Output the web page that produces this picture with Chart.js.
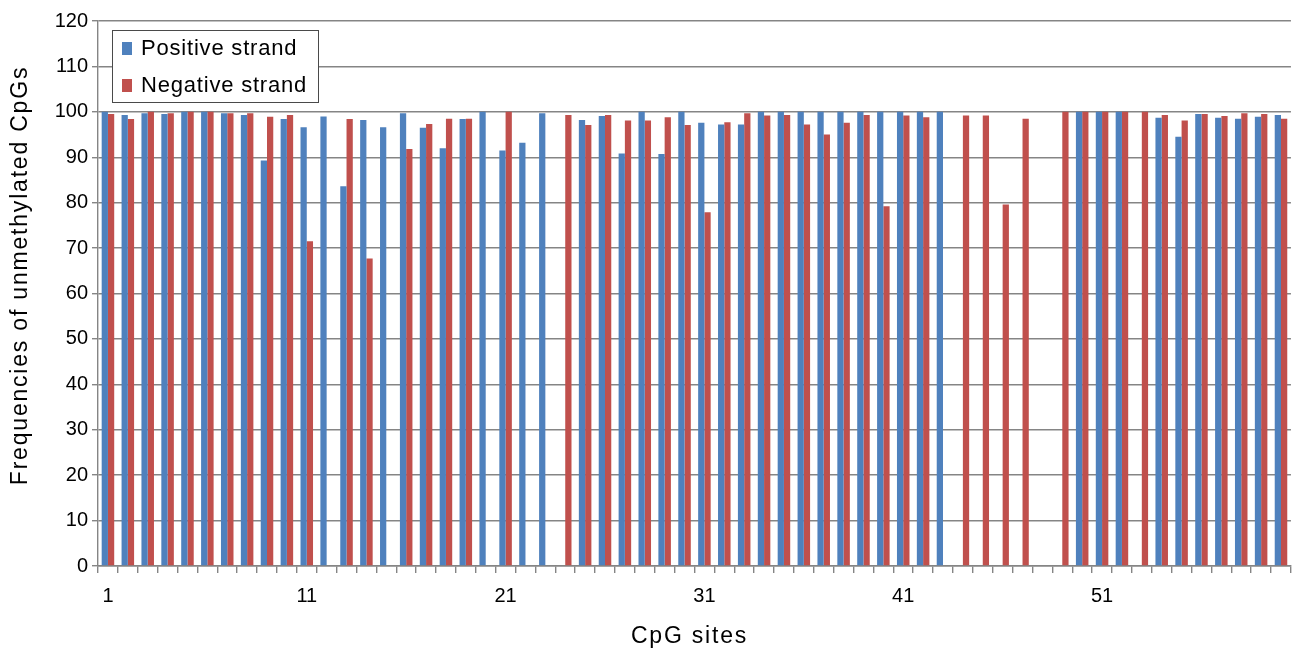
<!DOCTYPE html>
<html>
<head>
<meta charset="utf-8">
<script src="https://cdn.jsdelivr.net/npm/chart.js@4/dist/chart.umd.min.js"></script>
<style>
  html, body { margin: 0; padding: 0; background: #ffffff; }
  #wrap { width: 1292px; height: 653px; position: relative; }
</style>
</head>
<body>
<div id="wrap"><canvas id="c" width="1292" height="653"></canvas></div>
<script>
// CpG site numbers along the x axis
const sites = [
  '1','2','3','4','5','6','7','8','9','10',
  '11','12','13','14','15','16','17','18','19','20',
  '21','22','23','24','25','26','27','28','29','30',
  '31','32','33','34','35','36','37','38','39','40',
  '41','42','43','44','45','46','47','48','49','50',
  '51','52','53','54','55','56','57','58','59','60'
];

// Frequencies of unmethylated CpGs, positive strand (null = no data)
const positiveStrand = [
  100, 99.3, 99.7, 99.5, 100, 100, 99.7, 99.3, 89.3, 98.4,
  96.6, 99.0, 83.6, 98.2, 96.6, 99.7, 96.5, 92.0, 98.4, 100,
  91.5, 93.2, 99.7, null, 98.2, 99.1, 90.8, 100, 90.7, 100,
  97.6, 97.2, 97.2, 100, 100, 100, 100, 100, 100, 100,
  100, 100, 100, null, null, null, null, null, null, 100,
  100, 100, null, 98.7, 94.5, 99.5, 98.7, 98.5, 98.9, 99.3
];

// Frequencies of unmethylated CpGs, negative strand (null = no data)
const negativeStrand = [
  99.5, 98.4, 100, 99.7, 100, 100, 99.7, 99.7, 98.9, 99.3,
  71.5, null, 98.4, 67.7, null, 91.8, 97.3, 98.5, 98.5, null,
  100, null, null, 99.3, 97.1, 99.3, 98.1, 98.1, 98.8, 97.1,
  77.9, 97.7, 99.7, 99.2, 99.3, 97.2, 95.0, 97.6, 99.3, 79.2,
  99.2, 98.8, null, 99.2, 99.2, 79.6, 98.5, null, 100, 100,
  100, 100, 100, 99.3, 98.1, 99.5, 99.1, 99.7, 99.5, 98.5
];

// Series names and axis titles
const seriesNames = ['Positive strand', 'Negative strand'];
const xTitle = 'CpG sites';
const yTitle = 'Frequencies of unmethylated CpGs';

// Every 10th site gets a printed label
const labelEvery = 10;

const FONT = '"Liberation Sans", Arial, sans-serif';
const GRID = '#858585';
const BLUE = '#4F81BD';
const RED = '#C0504D';

// Axis titles, drawn in the space the scales reserve around the plot
const axisTitles = {
  id: 'axisTitles',
  afterDraw(chart) {
    const { ctx, chartArea } = chart;
    ctx.save();
    ctx.font = '23px ' + FONT;
    if ('letterSpacing' in ctx) ctx.letterSpacing = '1.8px';
    ctx.fillStyle = '#000000';
    ctx.textAlign = 'center';
    ctx.textBaseline = 'middle';
    // x title under the tick labels
    ctx.fillText(xTitle, (chartArea.left + chartArea.right) / 2 - 5, 637);
    // rotated y title left of the tick labels
    ctx.translate(21, (chartArea.top + chartArea.bottom) / 2 - 18);
    ctx.rotate(-Math.PI / 2);
    ctx.fillText(yTitle, 0, 0);
    ctx.restore();
  }
};

// Boxed legend drawn inside the top-left corner of the plot area
const boxedLegend = {
  id: 'boxedLegend',
  afterDatasetsDraw(chart) {
    const { ctx, chartArea } = chart;
    const x = chartArea.left + 14;
    const y = chartArea.top + 9;
    const w = 206;
    const h = 72;
    ctx.save();
    ctx.fillStyle = '#ffffff';
    ctx.fillRect(x, y, w, h);
    ctx.strokeStyle = '#4a4a4a';
    ctx.lineWidth = 1;
    ctx.strokeRect(x + 0.5, y + 0.5, w, h);
    ctx.font = '22px ' + FONT;
    if ('letterSpacing' in ctx) ctx.letterSpacing = '0.8px';
    ctx.textBaseline = 'middle';
    ctx.textAlign = 'left';
    chart.data.datasets.forEach((ds, i) => {
      const cy = y + 18 + i * 37;
      ctx.fillStyle = ds.backgroundColor;
      ctx.fillRect(x + 10, cy - 6, 10, 13);
      ctx.fillStyle = '#000000';
      ctx.fillText(ds.label, x + 29, cy + 1);
    });
    ctx.restore();
  }
};

new Chart(document.getElementById('c'), {
  type: 'bar',
  data: {
    labels: sites,
    datasets: [
      { label: seriesNames[0], data: positiveStrand, backgroundColor: BLUE },
      { label: seriesNames[1], data: negativeStrand, backgroundColor: RED }
    ]
  },
  options: {
    responsive: false,
    animation: false,
    devicePixelRatio: 1,
    layout: { padding: { top: 21, right: 0, bottom: 0, left: 0 } },
    datasets: { bar: { categoryPercentage: 0.63, barPercentage: 1.0 } },
    plugins: {
      legend: { display: false },
      tooltip: { enabled: false }
    },
    scales: {
      x: {
        offset: true,
        grid: { offset: true, drawOnChartArea: false, drawTicks: true, tickLength: 7, color: GRID, lineWidth: 1.4 },
        border: { color: GRID, width: 1.4 },
        ticks: {
          autoSkip: false, maxRotation: 0, minRotation: 0, padding: 11,
          color: '#000000', font: { family: FONT, size: 20 },
          callback(value, index) { return index % labelEvery === 0 ? this.getLabelForValue(value) : ''; }
        },
        afterFit(scale) { scale.height = 87; }
      },
      y: {
        min: 0, max: 120,
        grid: { color: GRID, tickLength: 6, lineWidth: 1.4 },
        border: { color: GRID, width: 1.4 },
        ticks: { stepSize: 10, padding: 4, color: '#000000', font: { family: FONT, size: 20 } },
        afterFit(scale) { scale.width = 98; }
      }
    }
  },
  plugins: [axisTitles, boxedLegend]
});
</script>
</body>
</html>
